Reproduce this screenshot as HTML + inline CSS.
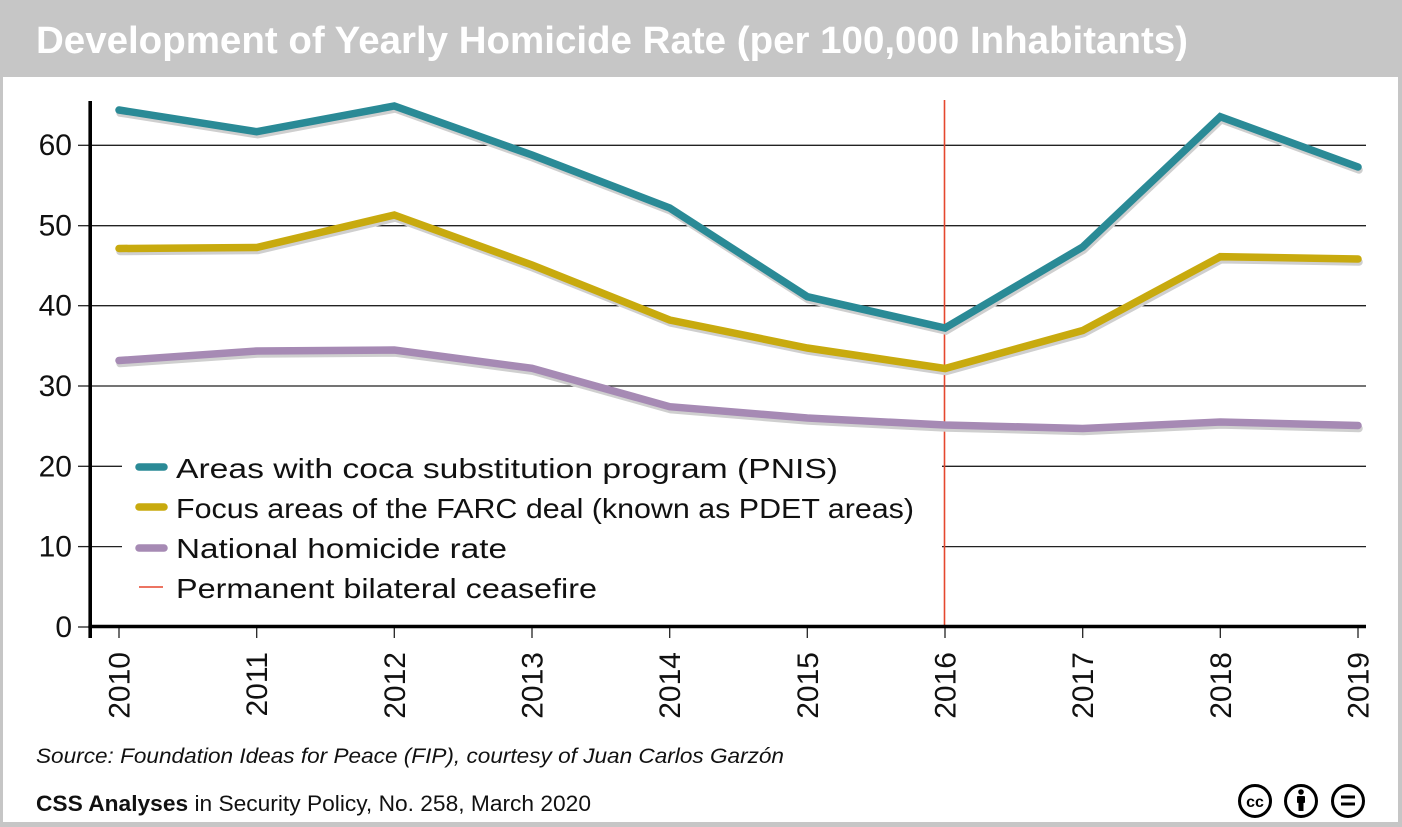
<!DOCTYPE html>
<html><head><meta charset="utf-8"><style>
html,body{margin:0;padding:0;background:#fff;}
svg{display:block;}
</style></head><body>
<svg width="1402" height="827" viewBox="0 0 1402 827" xmlns="http://www.w3.org/2000/svg" font-family="'Liberation Sans', sans-serif">
<rect x="0" y="0" width="1402" height="827" fill="#c6c6c6"/>
<rect x="3" y="77" width="1395" height="745" fill="#ffffff"/>
<text x="36" y="53" font-size="38" font-weight="bold" fill="#ffffff" textLength="1152" lengthAdjust="spacingAndGlyphs">Development of Yearly Homicide Rate (per 100,000 Inhabitants)</text>

<!-- grid -->
<g stroke="#222" stroke-width="1.3">
<line x1="92" y1="145.3" x2="1366" y2="145.3"/>
<line x1="92" y1="225.7" x2="1366" y2="225.7"/>
<line x1="92" y1="305.7" x2="1366" y2="305.7"/>
<line x1="92" y1="386" x2="1366" y2="386"/>
<line x1="92" y1="466.3" x2="1366" y2="466.3"/>
<line x1="92" y1="546.6" x2="1366" y2="546.6"/>
<line x1="78" y1="145.3" x2="90" y2="145.3"/>
<line x1="78" y1="225.7" x2="90" y2="225.7"/>
<line x1="78" y1="305.7" x2="90" y2="305.7"/>
<line x1="78" y1="386" x2="90" y2="386"/>
<line x1="78" y1="466.3" x2="90" y2="466.3"/>
<line x1="78" y1="546.6" x2="90" y2="546.6"/>
<line x1="78" y1="627" x2="90" y2="627"/>
</g>
<g stroke="#222" stroke-width="1.3">
<line x1="119" y1="627" x2="119" y2="638"/>
<line x1="256.7" y1="627" x2="256.7" y2="638"/>
<line x1="394.3" y1="627" x2="394.3" y2="638"/>
<line x1="532" y1="627" x2="532" y2="638"/>
<line x1="669.7" y1="627" x2="669.7" y2="638"/>
<line x1="807.3" y1="627" x2="807.3" y2="638"/>
<line x1="945" y1="627" x2="945" y2="638"/>
<line x1="1082.7" y1="627" x2="1082.7" y2="638"/>
<line x1="1220.3" y1="627" x2="1220.3" y2="638"/>
<line x1="1358" y1="627" x2="1358" y2="638"/>
</g>

<!-- legend background -->
<rect x="122" y="444" width="820" height="168" fill="#ffffff"/>

<!-- red line -->
<line x1="944.5" y1="100" x2="944.5" y2="627" stroke="#e5472e" stroke-width="1.6"/>

<!-- shadows -->
<g fill="none" stroke="#cfcfcf" stroke-width="7.5" stroke-linejoin="miter" stroke-linecap="round" transform="translate(1,3)">
<polyline points="119,110 256.7,131.7 394.3,106 532,155 669.7,208 807.3,296.7 945,328 1082.7,247 1220.3,116.7 1358,167"/>
<polyline points="119,248.5 256.7,247.5 394.3,215 532,265 669.7,320 807.3,348 945,368.5 1082.7,330.5 1220.3,256.7 1358,259"/>
<polyline points="119,360.5 256.7,351 394.3,350 532,368.3 669.7,406.7 807.3,418 945,425 1082.7,428.5 1220.3,422 1358,425.5"/>
</g>
<g fill="none" stroke-width="7.5" stroke-linejoin="miter" stroke-linecap="round">
<polyline stroke="#2a8a96" points="119,110 256.7,131.7 394.3,106 532,155 669.7,208 807.3,296.7 945,328 1082.7,247 1220.3,116.7 1358,167"/>
<polyline stroke="#c8aa0e" points="119,248.5 256.7,247.5 394.3,215 532,265 669.7,320 807.3,348 945,368.5 1082.7,330.5 1220.3,256.7 1358,259"/>
<polyline stroke="#a68ab4" points="119,360.5 256.7,351 394.3,350 532,368.3 669.7,406.7 807.3,418 945,425 1082.7,428.5 1220.3,422 1358,425.5"/>
</g>

<!-- axes -->
<line x1="90.2" y1="101" x2="90.2" y2="638" stroke="#000" stroke-width="3.6"/>
<line x1="88.4" y1="626.5" x2="1366" y2="626.5" stroke="#000" stroke-width="3.6"/>

<!-- y labels -->
<g font-size="30" fill="#111" text-anchor="end">
<text x="72" y="155">60</text>
<text x="72" y="235.5">50</text>
<text x="72" y="315.5">40</text>
<text x="72" y="396">30</text>
<text x="72" y="476.3">20</text>
<text x="72" y="556.6">10</text>
<text x="72" y="637">0</text>
</g>
<!-- x labels -->
<g font-size="30" fill="#111" text-anchor="end">
<text transform="translate(129.5,652) rotate(-90)">2010</text>
<text transform="translate(267.2,652) rotate(-90)">2011</text>
<text transform="translate(404.8,652) rotate(-90)">2012</text>
<text transform="translate(542.5,652) rotate(-90)">2013</text>
<text transform="translate(680.2,652) rotate(-90)">2014</text>
<text transform="translate(817.8,652) rotate(-90)">2015</text>
<text transform="translate(955.5,652) rotate(-90)">2016</text>
<text transform="translate(1093.2,652) rotate(-90)">2017</text>
<text transform="translate(1230.8,652) rotate(-90)">2018</text>
<text transform="translate(1368.5,652) rotate(-90)">2019</text>
</g>

<!-- legend -->
<g stroke-width="7.5" stroke-linecap="round">
<line x1="139" y1="467" x2="164" y2="467" stroke="#2a8a96"/>
<line x1="139" y1="507" x2="164" y2="507" stroke="#c8aa0e"/>
<line x1="139" y1="548" x2="164" y2="548" stroke="#a68ab4"/>
</g>
<line x1="139" y1="587" x2="163" y2="587" stroke="#e5472e" stroke-width="1.6"/>
<g font-size="28" fill="#111">
<text x="176" y="478" textLength="662" lengthAdjust="spacingAndGlyphs">Areas with coca substitution program (PNIS)</text>
<text x="176" y="518" textLength="738" lengthAdjust="spacingAndGlyphs">Focus areas of the FARC deal (known as PDET areas)</text>
<text x="176" y="558" textLength="331" lengthAdjust="spacingAndGlyphs">National homicide rate</text>
<text x="176" y="598" textLength="421" lengthAdjust="spacingAndGlyphs">Permanent bilateral ceasefire</text>
</g>

<!-- footer -->
<text x="36" y="763" font-size="21.5" font-style="italic" fill="#111" textLength="748" lengthAdjust="spacingAndGlyphs">Source: Foundation Ideas for Peace (FIP), courtesy of Juan Carlos Garzón</text>
<text x="36" y="811" font-size="22" fill="#111" textLength="555" lengthAdjust="spacingAndGlyphs"><tspan font-weight="bold">CSS Analyses</tspan> in Security Policy, No. 258, March 2020</text>

<!-- CC icons -->
<g fill="none" stroke="#000" stroke-width="3">
<circle cx="1255" cy="801" r="15.5"/>
<circle cx="1301" cy="801" r="15.5"/>
<circle cx="1348" cy="801" r="15.5"/>
</g>
<text x="1255" y="807" font-size="16" font-weight="bold" text-anchor="middle" fill="#000">cc</text>
<circle cx="1301" cy="792" r="2.8" fill="#000"/>
<rect x="1297" y="796" width="8" height="7" rx="1" fill="#000"/>
<rect x="1298.5" y="802" width="5" height="9" fill="#000"/>
<rect x="1341" y="795.5" width="14" height="3" fill="#000"/>
<rect x="1341" y="802.5" width="14" height="3" fill="#000"/>
</svg>
</body></html>
